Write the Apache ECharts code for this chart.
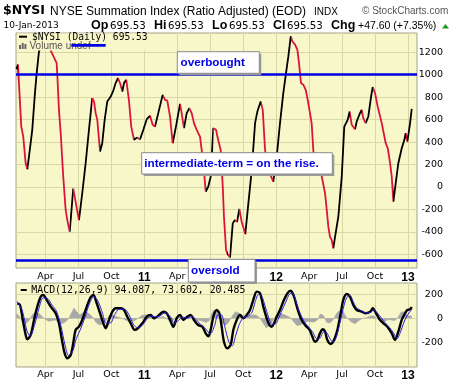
<!DOCTYPE html>
<html><head><meta charset="utf-8">
<script src="https://cdn.jsdelivr.net/npm/echarts@6/dist/echarts.min.js"></script>
<style>html,body{margin:0;padding:0;background:#fff}#c{width:460px;height:383px}</style>
</head><body><div id="c"></div>
<script>
// x values: months elapsed since 2010-01-01 (fractional)
const nysiT = [0.36,0.50,0.80,0.98,1.20,1.35,1.50,1.80,2.02,2.20,2.41,2.96,3.53,4.02,4.08,4.23,4.39,4.62,4.84,4.99,5.21,5.53,5.70,6.05,6.35,6.66,6.96,7.26,7.42,7.57,7.72,7.97,8.17,8.39,8.63,8.94,9.15,9.39,9.60,9.79,10.00,10.15,10.36,10.61,10.81,11.06,11.33,11.61,11.91,12.22,12.52,12.76,12.97,13.27,13.67,13.88,14.09,14.34,14.58,14.88,15.25,15.40,15.61,15.86,16.09,16.31,16.52,16.77,16.91,17.07,17.22,17.37,17.59,17.82,18.04,18.28,18.53,18.65,18.95,19.14,19.25,19.44,19.55,19.66,19.80,20.05,20.25,20.44,20.65,20.86,21.19,21.47,21.78,22.08,22.29,22.59,22.78,22.99,23.29,23.74,24.05,24.35,24.65,24.96,25.11,25.33,25.47,25.72,25.93,26.08,26.26,26.47,26.69,26.87,27.08,27.23,27.38,27.54,27.84,28.08,28.45,28.60,28.75,28.90,29.06,29.20,29.36,29.66,29.97,30.20,30.51,30.69,30.88,31.18,31.33,31.63,31.79,31.93,32.15,32.39,32.64,32.79,33.00,33.24,33.61,33.97,34.16,34.37,34.52,34.67,34.88,35.12,35.43,35.67,35.79,35.94,36.19,36.34];
const nysiV = [1050,1090,538,448,211,158,270,508,805,1013,1206,1340,1206,1104,1000,687,479,92,-205,-295,-399,-15,-30,-295,-56,212,509,792,762,658,598,315,390,598,762,806,851,926,970,926,851,926,955,762,538,420,440,425,509,604,634,554,538,658,821,777,770,628,390,538,741,658,524,658,703,658,569,509,479,449,330,212,-42,3,92,524,509,449,330,3,-265,-562,-592,-585,-628,-324,-295,-310,-196,-310,-420,-146,152,569,672,762,687,330,152,47,271,569,837,1060,1163,1342,1298,1268,1223,1104,926,911,866,777,658,569,330,122,107,130,-56,-200,-354,-444,-473,-547,-444,-265,92,538,598,672,554,515,583,658,687,613,569,628,806,890,837,717,569,390,345,212,92,-131,33,212,345,420,479,405,569,696];

const macdT = [0.44,0.68,0.89,1.11,1.35,1.66,1.96,2.26,2.57,2.80,3.11,3.48,3.93,4.23,4.53,4.75,4.99,5.30,5.53,5.75,6.05,6.35,6.66,7.06,7.36,7.67,7.97,8.27,8.48,8.78,9.09,9.39,9.85,10.15,10.45,10.76,11.12,11.42,11.82,12.22,12.58,12.88,13.25,13.73,14.04,14.34,14.64,14.95,15.25,15.55,15.91,16.22,16.52,16.89,17.28,17.59,17.84,18.07,18.30,18.59,18.83,19.04,19.25,19.55,19.86,20.10,20.41,20.71,21.01,21.32,21.62,21.92,22.23,22.53,22.83,23.14,23.38,23.60,23.81,24.05,24.35,24.65,25.02,25.33,25.63,25.93,26.24,26.63,27.02,27.24,27.54,27.75,27.99,28.24,28.45,28.66,28.97,29.27,29.57,29.88,30.11,30.42,30.72,31.02,31.33,31.79,32.09,32.57,32.79,33.09,33.46,33.76,34.12,34.52,34.82,35.12,35.43,35.73,35.94,36.19,36.34];
const macdV = [125,111,13,-97,-175,-139,-14,97,180,194,153,97,42,-42,-195,-292,-333,-306,-208,-97,-70,-14,69,167,194,125,42,-42,-83,-14,55,83,83,69,13,-42,-97,-83,-42,13,28,0,19,55,42,-14,-70,0,28,-14,13,28,-14,-56,-70,-125,-150,-83,20,69,42,-70,-195,-250,-222,-97,-14,28,0,28,69,153,222,208,97,0,-56,-70,-42,13,69,139,208,230,180,83,0,-56,-92,-139,-195,-181,-125,-92,-111,-181,-214,-181,-97,42,153,202,180,111,69,55,42,55,83,42,-14,-42,-70,-125,-181,-111,-14,42,69,75,94];

const sigT = [0.44,0.90,1.30,1.60,2.00,2.40,2.80,3.20,3.60,4.00,4.40,4.80,5.10,5.50,5.80,6.20,6.60,7.00,7.40,7.80,8.20,8.50,8.90,9.30,9.70,10.20,10.60,11.00,11.40,11.80,12.30,12.70,13.00,13.40,13.90,14.40,14.70,15.10,15.50,15.90,16.30,16.70,17.10,17.60,18.00,18.40,18.70,19.00,19.30,19.70,20.00,20.30,20.60,21.00,21.40,21.80,22.10,22.40,22.70,23.00,23.30,23.60,23.90,24.20,24.50,24.90,25.20,25.50,25.80,26.10,26.50,26.90,27.30,27.70,28.00,28.30,28.60,28.90,29.20,29.50,29.80,30.10,30.40,30.70,31.00,31.30,31.80,32.20,32.60,32.90,33.20,33.60,33.90,34.30,34.70,35.00,35.30,35.60,35.90,36.34];
const sigV = [140,60,-100,-150,-60,80,170,165,110,60,-60,-230,-310,-270,-170,-90,10,120,180,140,40,-40,-40,30,75,75,30,-50,-80,-60,0,20,10,20,45,10,-40,-20,10,0,15,-10,-50,-90,-130,-60,30,30,-60,-200,-230,-150,-60,5,15,50,140,200,180,100,10,-50,-50,-5,60,140,200,210,140,60,-20,-70,-110,-170,-165,-115,-120,-170,-200,-150,-40,80,170,190,140,90,60,45,50,70,45,0,-35,-75,-125,-170,-120,-40,20,74];

const histT = [0.35,0.60,0.90,1.20,1.50,1.80,2.10,2.40,2.70,3.00,3.30,3.60,3.90,4.20,4.50,4.80,5.10,5.40,5.60,5.80,6.10,6.40,6.70,7.00,7.30,7.60,7.90,8.20,8.50,8.80,9.10,9.40,9.80,10.10,10.40,10.80,11.10,11.50,11.80,12.20,12.60,12.90,13.30,13.70,14.00,14.30,14.60,14.90,15.20,15.50,15.90,16.20,16.50,16.90,17.20,17.60,17.90,18.10,18.30,18.60,18.90,19.10,19.40,19.70,20.00,20.30,20.60,20.90,21.20,21.50,21.90,22.20,22.50,22.80,23.10,23.40,23.70,24.00,24.30,24.60,25.00,25.30,25.60,25.90,26.20,26.60,26.90,27.20,27.50,27.80,28.00,28.30,28.60,28.90,29.20,29.50,29.80,30.00,30.30,30.60,30.90,31.20,31.50,31.90,32.20,32.60,32.90,33.20,33.50,33.80,34.20,34.50,34.80,35.10,35.40,35.70,36.00,36.34];
const histV = [40,20,-30,-45,-20,30,50,40,15,-10,-25,-20,-15,-30,-45,-30,-5,50,85,60,30,45,55,35,10,-35,-55,-50,-20,25,30,15,5,-5,-20,-25,-20,5,25,30,10,-10,5,15,0,-20,-20,15,15,-10,10,10,-5,-15,-20,-35,-20,30,70,55,5,-40,-60,-30,20,55,45,25,10,20,30,25,5,-40,-80,-60,-20,25,40,35,20,5,-30,-60,-55,-35,-25,-30,-30,-10,35,25,-35,-40,-10,40,70,80,20,-10,-35,-45,-20,0,5,20,20,-5,-20,-30,-10,-15,-20,10,55,50,20,20];

const tickMonths = [3,6,9,12,15,18,21,24,27,30,33,36];
const tickLabels = ['Apr','Jul','Oct','11','Apr','Jul','Oct','12','Apr','Jul','Oct','13'];
const yTicksMain = [-600,-400,-200,0,200,400,600,800,1000,1200];
const yTicksMacd = [-200,0,200];
const overbought = 1000, oversold = -650;

const PLOT_BG='#F8F7C9', GRID='#D8D7A6', BORDER='#A4A38A', RED='#DC143C', BLUE='#0000E6';
const X_MIN=0.32, X_MAX=36.82;
const pairs=(t,v)=>t.map((x,i)=>[x,v[i]]);

const pieces=[];
for(let i=0;i<nysiT.length-1;i++){
  const p={gte:nysiT[i], color:nysiV[i+1]>=nysiV[i]?'#000':RED};
  if(i<nysiT.length-2) p.lt=nysiT[i+1]; else p.lte=nysiT[i+1];
  pieces.push(p);
}

function xAx(gi, margin){
  return {type:'value',gridIndex:gi,min:X_MIN,max:X_MAX,
    axisLine:{show:false},
    axisTick:{show:false,customValues:tickMonths},
    splitLine:{show:true,lineStyle:{color:GRID,width:1}},
    axisLabel:{customValues:tickMonths,margin:margin,fontFamily:'DejaVu Sans',fontSize:9.5,color:'#000',
      formatter:(v)=>{const l=tickLabels[Math.round(v/3)-1]||''; return /^\d+$/.test(l)?'{y|'+l+'}':l;},
      rich:{y:{fontFamily:'Liberation Sans',fontWeight:'bold',fontSize:12,color:'#000'}}}};
}
function yAx(gi,min,max,ticks){
  return {type:'value',gridIndex:gi,position:'right',min:min,max:max,
    axisLine:{show:false},
    axisTick:{show:false,customValues:ticks},
    splitLine:{show:true,lineStyle:{color:GRID,width:1}},
    axisLabel:{customValues:ticks,margin:26,align:'right',fontFamily:'DejaVu Sans',fontSize:9.5,color:'#000',
      formatter:(v)=>String(v)}};
}

function txt(x,y,text,font,fill,extra){return Object.assign({type:'text',x:x,y:y,z:110,style:{text:text,font:font,fill:fill||'#000',verticalAlign:'middle'}},extra||{});}
function box(x,y,w,h,text,tx){
  return [
    {type:'rect',z:100,shape:{x:x+2,y:y+2,width:w,height:h},style:{fill:'#9a9a9a'}},
    {type:'rect',z:101,shape:{x:x,y:y,width:w,height:h},style:{fill:'#fff',stroke:'#8a8a8a',lineWidth:1}},
    txt(tx,y+h/2+0.5,text,'bold 11.7px "Liberation Sans"',BLUE,{z:102})
  ];
}
const VAL='10.2px "DejaVu Sans"', LBL='bold 12.5px "Liberation Sans"';
const graphics=[
  txt(3,11,'$NYSI','bold 12.5px "DejaVu Sans"'),
  txt(50,11.5,'NYSE Summation Index (Ratio Adjusted) (EOD)','12px "Liberation Sans"'),
  txt(314,12,'INDX','10px "Liberation Sans"'),
  txt(362,11.5,'\u00A9 StockCharts.com','10px "Liberation Sans"','#555'),
  txt(3.5,26,'10-Jan-2013','9px "DejaVu Sans"'),
  txt(91,26,'Op',LBL), txt(110,26,'695.53',VAL),
  txt(154,26,'Hi',LBL), txt(168,26,'695.53',VAL),
  txt(212,26,'Lo',LBL), txt(229,26,'695.53',VAL),
  txt(273,26,'Cl',LBL), txt(287,26,'695.53',VAL),
  txt(331,26,'Chg',LBL), txt(358,26,'+47.60 (+7.35%)','10.5px "Liberation Sans"'),
  {type:'polygon',z:110,shape:{points:[[442,28.5],[449,28.5],[445.5,24]]},style:{fill:'#1a9a1a'}},
  // legend in main panel
  {type:'rect',z:50,shape:{x:17,y:33.5,width:128,height:17},style:{fill:PLOT_BG}},
  {type:'line',z:110,shape:{x1:19,y1:36.7,x2:27,y2:36.7},style:{stroke:'#000',lineWidth:2}},
  txt(32,37,'$NYSI (Daily) 695.53','9.6px "DejaVu Sans Mono"'),
  {type:'rect',z:110,shape:{x:19,y:45,width:2,height:4},style:{fill:'#666'}},
  {type:'rect',z:110,shape:{x:21.7,y:43,width:2,height:6},style:{fill:'#666'}},
  {type:'rect',z:110,shape:{x:24.4,y:44,width:2,height:5},style:{fill:'#666'}},
  txt(29.5,46.5,'Volume undef','10px "Liberation Sans"','#555'),
  {type:'line',z:112,shape:{x1:71.3,y1:45.3,x2:105.7,y2:45.3},style:{stroke:BLUE,lineWidth:2.7}},
  // MACD legend
  {type:'line',z:110,shape:{x1:20.7,y1:290,x2:26.7,y2:290},style:{stroke:'#000',lineWidth:2}},
  {type:'text',x:31.3,y:290.5,z:110,style:{text:'{k|MACD(12,26,9) 94.087}{b|, 73.602}{g|, 20.485}',verticalAlign:'middle',
    rich:{k:{fontFamily:'DejaVu Sans Mono',fontSize:9.9,color:'#000'},b:{fontFamily:'DejaVu Sans Mono',fontSize:9.9,color:'#2020d0'},g:{fontFamily:'DejaVu Sans Mono',fontSize:9.9,color:'#888'}}}},
].concat(box(177.3,51.7,82,21.6,'overbought',180.5))
 .concat(box(141.7,152.7,190.6,21.3,'intermediate-term = on the rise.',144.3))
 .concat(box(188.3,259.3,66.7,22.7,'oversold',191));

const option={
  animation:false,
  backgroundColor:'#fff',
  grid:[
    {left:16,top:33,width:401,height:235,show:true,backgroundColor:PLOT_BG,borderColor:BORDER,borderWidth:1},
    {left:16,top:283,width:401,height:84,show:true,backgroundColor:PLOT_BG,borderColor:BORDER,borderWidth:1}
  ],
  xAxis:[xAx(0,4),xAx(1,3)],
  yAxis:[yAx(0,-722,1372,yTicksMain),yAx(1,-406,294,yTicksMacd)],
  visualMap:[{type:'piecewise',show:false,dimension:0,seriesIndex:0,pieces:pieces,outOfRange:{color:'#000'}}],
  series:[
    {type:'line',xAxisIndex:0,yAxisIndex:0,data:pairs(nysiT,nysiV),showSymbol:false,lineStyle:{width:1.8},z:3,
      markLine:{silent:true,symbol:'none',label:{show:false},lineStyle:{color:BLUE,width:2.6,type:'solid'},
        data:[{yAxis:overbought},{yAxis:oversold}]}},
    {type:'line',xAxisIndex:1,yAxisIndex:1,data:pairs(histT,histV),showSymbol:false,lineStyle:{width:0.5,color:'#a8a8a8'},areaStyle:{color:'#a8a8a8',opacity:1,origin:0},z:2},
    {type:'line',xAxisIndex:1,yAxisIndex:1,data:pairs(macdT,macdV),showSymbol:false,smooth:0.3,lineStyle:{width:2.4,color:'#000'},z:3},
    {type:'line',xAxisIndex:1,yAxisIndex:1,data:pairs(sigT,sigV),showSymbol:false,smooth:0.3,lineStyle:{width:1,color:'#2a1ee0'},z:4}
  ],
  graphic:{elements:graphics}
};
const chart=echarts.init(document.getElementById('c'));
chart.setOption(option);
</script></body></html>
